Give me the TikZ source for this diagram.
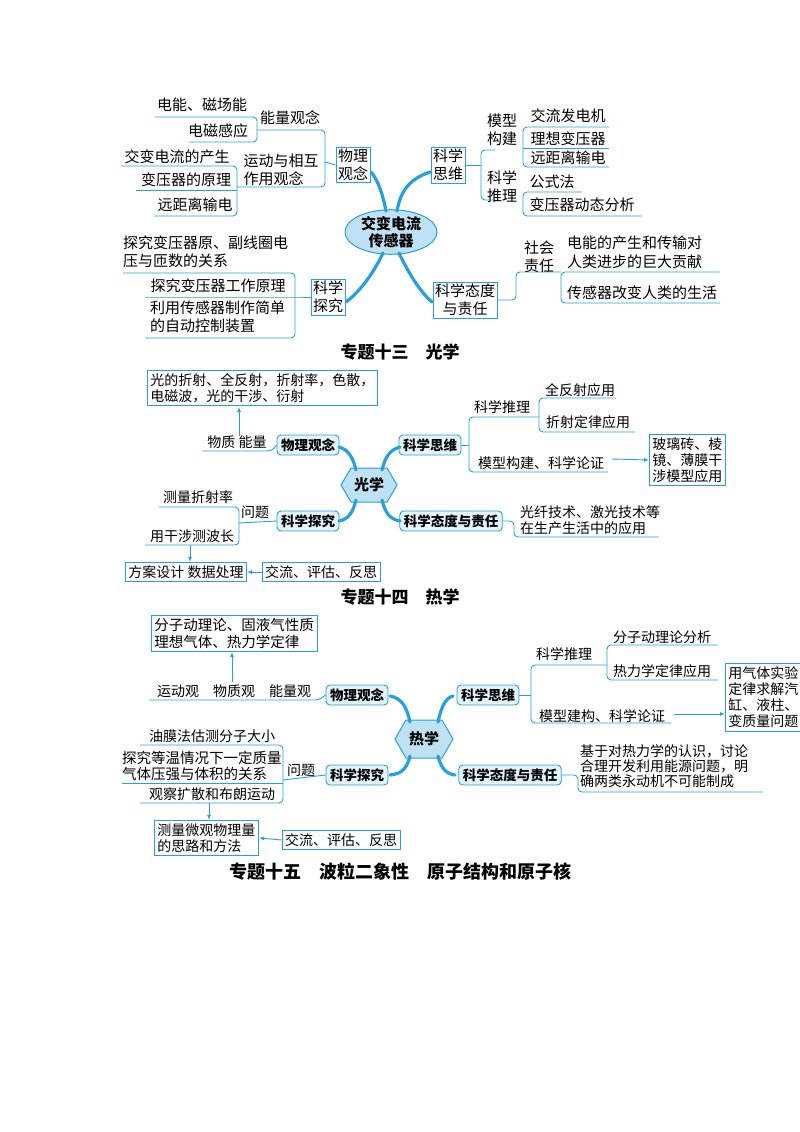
\documentclass[tikz,border=0pt]{standalone}
\usepackage{fontspec}
\setmainfont{Noto Sans CJK SC}
\usetikzlibrary{shapes.geometric,arrows.meta}
\definecolor{lb}{RGB}{41,160,215}
\definecolor{lf}{RGB}{228,243,250}
\definecolor{lfe}{RGB}{190,225,243}
\tikzset{
 lnc/.style={draw=lb,line width=0.9pt},
 rc/.style={lnc,rounded corners=4pt},
 t/.style={inner sep=0pt,font=\fontsize{15}{18}\selectfont},
 t2/.style={inner sep=0pt,font=\fontsize{14}{16}\selectfont},
 box1/.style={draw=lb,line width=0.9pt,fill=white,inner sep=2pt,align=center,font=\fontsize{15}{18}\selectfont},
 box2/.style={draw=lb,line width=0.9pt,fill=white,inner sep=3pt,align=left,font=\fontsize{14}{16}\selectfont},
 rbox/.style={draw=lb,line width=0.9pt,rounded corners=4pt,fill=lf,font=\bfseries\fontsize{13.5}{15}\selectfont,minimum height=20pt,inner xsep=4pt,inner ysep=2pt},
 brn/.style={draw=lb,line width=3.2pt,line cap=round},
 arr/.style={lnc,-{Latex[length=5pt,width=4pt]}},
 hexf/.style={draw=lb,line width=1pt,fill=lfe},
 ttl/.style={inner sep=0pt,font=\bfseries\fontsize{17}{20}\selectfont},
}
\begin{document}
\begin{tikzpicture}[x=1pt,y=-1pt]
\useasboundingbox (0,0) rectangle (800,1132);
\fill[white] (0,0) rectangle (800,1132);
\begin{scope}
\clip (0,0) rectangle (800,1132);
% ===== Section 1 =====
\node[ellipse,draw=lb,line width=1pt,fill=lfe,minimum width=92pt,minimum height=44pt,inner sep=0pt,font=\bfseries\fontsize{15}{17}\selectfont,align=center] (c1) at (391,232) {交变电流\\传感器};
\node[box1] (p1) at (353,165) {物理\\观念};
\node[box1] (s1) at (448,165) {科学\\思维};
\node[box1] (k1) at (328,297) {科学\\探究};
\node[box1] (a1) at (465,300) {科学态度\\与责任};
\draw[brn] (386,211) .. controls (383,195) and (378,180) .. (371,172);
\draw[brn] (397,211) .. controls (400,195) and (406,180) .. (430,172);
\draw[brn] (383,253) .. controls (375,270) and (362,290) .. (346,302);
\draw[brn] (399,253) .. controls (408,272) and (420,292) .. (432,302);
% left of 物理观念
\node[t] (e1) at (202,105) {电能、磁场能};
\node[t] (e2) at (218,131) {电磁感应};
\node[t] (e3) at (290,118) {能量观念};
\draw[rc] (155,117) -- (257,117) -- (257,142) -- (189,142);
\draw[rc] (257,130) -- (325,130) -- (325,187) -- (237,187);
\draw[lnc] (325,162) -- (p1.west);
\node[t,align=left] (e4) at (281,170) {运动与相互\\作用观念};
\node[t] (e5) at (177,157) {交变电流的产生};
\node[t] (e6) at (186,180) {变压器的原理};
\node[t] (e7) at (195,205) {远距离输电};
\draw[rc] (121,166) -- (237,166) -- (237,216) -- (154,216);
\draw[lnc] (136,190) -- (237,190);
% right of 科学思维
\draw[lnc] (s1.east) -- (481,165);
\draw[rc] (495,150) -- (481,150) -- (481,200) -- (495,200);
\node[t,align=center] (m1) at (502,130) {模型\\构建};
\node[t,align=center] (m2) at (502,187) {科学\\推理};
\draw[rc] (609,127) -- (523,127) -- (523,167) -- (609,167);
\draw[lnc] (523,148) -- (609,148);
\node[t] (m3) at (568,116) {交流发电机};
\node[t] (m4) at (568,139) {理想变压器};
\node[t] (m5) at (568,158) {远距离输电};
\draw[rc] (582,192) -- (523,192) -- (523,216) -- (642,216);
\node[t] (m6) at (552,182) {公式法};
\node[t] (m7) at (582,205) {变压器动态分析};
% left of 科学探究
\node[t,align=left,anchor=north west,font=\fontsize{15}{17.5}\selectfont] (k2) at (123,236) {探究变压器原、副线圈电\\压与匝数的关系};
\draw[rc] (123,273) -- (295,273) -- (295,338) -- (145,338);
\draw[lnc] (145,297) -- (295,297) -- (k1.west);
\node[t] (k3) at (218,286) {探究变压器工作原理};
\node[t,align=left,anchor=north west,font=\fontsize{15}{17.5}\selectfont] (k4) at (150,301) {利用传感器制作简单\\的自动控制装置};
% right of 科学态度
\draw[rc] (a1.east) -- (516,300) -- (516,272) -- (561,272);
\draw[rc] (720,272) -- (561,272) -- (561,303) -- (720,303);
\node[t,align=center] (a2) at (539,257) {社会\\责任};
\node[t,align=left,anchor=west,font=\fontsize{15}{19}\selectfont] (a3) at (567,252) {电能的产生和传输对\\人类进步的巨大贡献};
\node[t,anchor=west] (a4) at (567,293) {传感器改变人类的生活};
\node[ttl] (T1) at (400,352) {专题十三\quad 光学};
% ===== Section 2 =====
\node[box2,anchor=north west] (g1) at (147,370) {光的折射、全反射，折射率，色散，\\电磁波，光的干涉、衍射};
\node[t2] (g2) at (237,442) {物质 能量};
\draw[arr] (239,436) -- (239,407);
\node[rbox] (gw) at (308,445) {物理观念};
\node[rbox] (gs) at (430,445) {科学思维};
\node[rbox] (gt) at (308,521) {科学探究};
\node[rbox] (ga) at (451,521) {科学态度与责任};
\draw[rc] (202,451) -- (272,451) -- (gw.west);
\draw[hexf] (341,485) -- (351,468) -- (387,468) -- (397,485) -- (387,502) -- (351,502) -- cycle;
\node[inner sep=0pt,font=\bfseries\fontsize{15}{17}\selectfont] (h1) at (369,485) {光学};
\draw[brn] (356,470) .. controls (353,458) and (349,450) .. (339,447);
\draw[brn] (382,470) .. controls (385,458) and (389,450) .. (400,447);
\draw[brn] (356,500) .. controls (353,512) and (349,519) .. (339,521);
\draw[brn] (382,500) .. controls (385,512) and (389,519) .. (400,521);
\draw[lnc] (gs.east) -- (469,445);
\draw[rc] (539,417) -- (469,417) -- (469,472) -- (608,472);
\draw[rc] (616,398) -- (539,398) -- (539,432) -- (635,432);
\node[t2] (g3) at (502,407) {科学推理};
\node[t2] (g4) at (580,390) {全反射应用};
\node[t2] (g5) at (588,422) {折射定律应用};
\node[t2] (g6) at (541,463) {模型构建、科学论证};
\node[box2,anchor=west] (g7) at (649,460) {玻璃砖、棱\\镜、薄膜干\\涉模型应用};
\draw[arr] (612,459) -- (g7.west);
\draw[rc] (ga.east) -- (514,521) -- (514,537) -- (659,537);
\node[t2,align=left,anchor=west,font=\fontsize{14}{15.5}\selectfont] (g8) at (520,520) {光纤技术、激光技术等\\在生产生活中的应用};
\draw[rc] (159,507) -- (239,507) -- (239,545) -- (145,545);
\draw[lnc] (239,523) -- (gt.west);
\node[t2] (g9) at (198,497) {测量折射率};
\node[t2] (g10) at (255,512) {问题};
\node[t2] (g11) at (192,536) {用干涉测波长};
\node[box2] (gb1) at (186,572) {方案设计 数据处理};
\node[box2] (gb2) at (321,572) {交流、评估、反思};
\coordinate (gq) at (190,545);
\draw[arr] (gq) -- (gq |- gb1.north);
\draw[arr] (gb2.west) -- (gb1.east);
\node[ttl] (T2) at (400,597) {专题十四\quad 热学};
% ===== Section 3 =====
\node[box2,anchor=north west,font=\fontsize{14.5}{16.5}\selectfont] (r1) at (151,615) {分子动理论、固液气性质\\理想气体、热力学定律};
\coordinate (rq) at (232,682);
\draw[arr] (rq) -- (rq |- r1.south);
\node[t2] (r2) at (234,691) {运动观\quad 物质观\quad 能量观};
\node[rbox] (rw) at (357,695) {物理观念};
\node[rbox] (rs) at (488,695) {科学思维};
\node[rbox] (rt) at (357,775) {科学探究};
\node[rbox] (ra) at (510,775) {科学态度与责任};
\draw[rc] (149,700) -- (319,700) -- (rw.west);
\draw[hexf] (395,739) -- (406,720) -- (442,720) -- (453,739) -- (442,758) -- (406,758) -- cycle;
\node[inner sep=0pt,font=\bfseries\fontsize{15}{17}\selectfont] (h2) at (424,739) {热学};
\draw[brn] (410,722) .. controls (407,708) and (402,698) .. (390,696);
\draw[brn] (438,722) .. controls (441,708) and (445,698) .. (453,696);
\draw[brn] (410,756) .. controls (407,768) and (402,774) .. (390,775);
\draw[brn] (438,756) .. controls (441,768) and (446,774) .. (455,775);
\draw[lnc] (rs.east) -- (531,695);
\draw[rc] (607,665) -- (531,665) -- (531,723) -- (671,723);
\draw[rc] (718,645) -- (607,645) -- (607,680) -- (718,680);
\node[t2] (r3) at (564,654) {科学推理};
\node[t2] (r4) at (662,637) {分子动理论分析};
\node[t2] (r5) at (662,671) {热力学定律应用};
\node[t2] (r6) at (602,716) {模型建构、科学论证};
\node[box2,anchor=west,minimum height=68pt] (r7) at (725,697) {用气体实验\\定律求解汽\\缸、液柱、\\变质量问题};
\coordinate (rp) at (674,714);
\draw[arr] (rp) -- (rp -| r7.west);
\draw[rc] (ra.east) -- (578,775) -- (578,792) -- (763,792);
\node[t2,align=left,anchor=north west,font=\fontsize{14}{15}\selectfont] (r8) at (580,744) {基于对热力学的认识，讨论\\合理开发利用能源问题，明\\确两类永动机不可能制成};
\draw[rc] (140,745) -- (283,745) -- (283,803) -- (140,803);
\draw[lnc] (122,783) -- (283,783);
\draw[lnc] (283,780) -- (rt.west);
\node[t2] (r9) at (212,736) {油膜法估测分子大小};
\node[t2] (r10) at (301,770) {问题};
\node[t2,align=left,anchor=west,font=\fontsize{14.5}{15.5}\selectfont] (r11) at (122,766) {探究等温情况下一定质量\\气体压强与体积的关系};
\node[t2] (r12) at (212,794) {观察扩散和布朗运动};
\node[box2,anchor=north west] (rb1) at (154,820) {测量微观物理量\\的思路和方法};
\node[box2] (rb2) at (341,840) {交流、评估、反思};
\coordinate (rr) at (209,803);
\draw[arr] (rr) -- (rr |- rb1.north);
\draw[arr] (rb2.west) -- (rb1.east);
\node[ttl,font=\bfseries\fontsize{18}{20}\selectfont] (T3) at (400,872) {专题十五\quad 波粒二象性\quad 原子结构和原子核};
\end{scope}
\end{tikzpicture}
\end{document}
